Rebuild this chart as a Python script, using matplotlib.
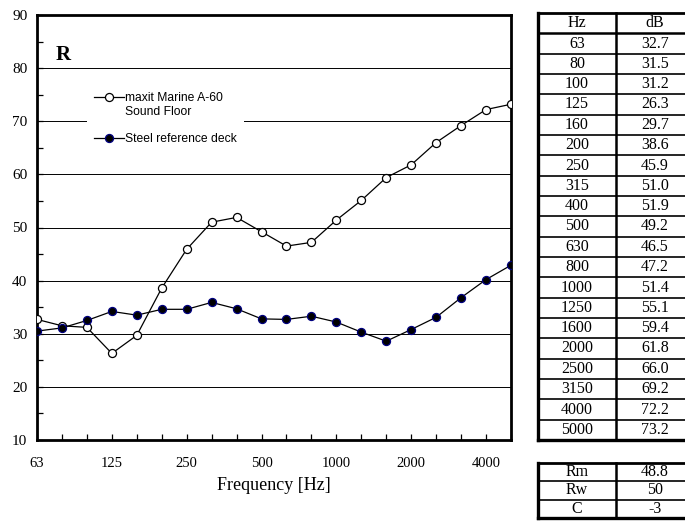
import numpy as np
import matplotlib
matplotlib.use('Agg')
import matplotlib.pyplot as plt
from matplotlib.lines import Line2D

# third-octave band centre frequencies and measured reduction index R [dB]
freqs = [63, 80, 100, 125, 160, 200, 250, 315, 400, 500,
         630, 800, 1000, 1250, 1600, 2000, 2500, 3150, 4000, 5000]
maxit_db = [32.7, 31.5, 31.2, 26.3, 29.7, 38.6, 45.9, 51.0, 51.9, 49.2,
            46.5, 47.2, 51.4, 55.1, 59.4, 61.8, 66.0, 69.2, 72.2, 73.2]
steel_db = [30.5, 31.1, 32.5, 34.2, 33.5, 34.6, 34.6, 35.9, 34.7, 32.8,
            32.7, 33.3, 32.2, 30.3, 28.6, 30.8, 33.1, 36.8, 40.2, 42.9]
summary_names = ['Rm', 'Rw', 'C']
summary_vals = ['48.8', '50', '-3']

serif = 'Liberation Serif'
sans = 'Liberation Sans'

W, H = 685, 521
fig = plt.figure(figsize=(W / 100, H / 100), dpi=100, facecolor='white')

# ── main chart ───────────────────────────────────────────────────────────
x0, x1, y0, y1 = 37, 511, 15, 440
ax = fig.add_axes([x0 / W, 1 - y1 / H, (x1 - x0) / W, (y1 - y0) / H])
idx = np.arange(len(freqs))

for g in range(20, 90, 10):
    ax.axhline(g, color='black', lw=0.7, zorder=1)

h_maxit, = ax.plot(idx, maxit_db, color='black', lw=0.9, marker='o', ms=5.8,
                   mfc='white', mec='black', mew=0.9, zorder=3)
h_steel, = ax.plot(idx, steel_db, color='black', lw=0.9, marker='o', ms=5.8,
                   mfc='black', mec='#000080', mew=0.9, zorder=3)

ax.set_xlim(0, len(freqs) - 1)
ax.set_ylim(10, 90)
ax.set_xticks(idx)
ax.set_xticklabels([str(f) if i % 3 == 0 else '' for i, f in enumerate(freqs)],
                   fontfamily=serif, fontsize=10.5)
ax.set_yticks(range(10, 91, 10))
ax.set_yticks(range(15, 90, 10), minor=True)
ax.set_yticklabels([str(v) for v in range(10, 91, 10)], fontfamily=serif, fontsize=11)
ax.tick_params(axis='x', direction='in', length=4, width=0.9, pad=12)
ax.tick_params(axis='y', which='both', direction='in', length=4, width=0.9, pad=7)
for s in ax.spines.values():
    s.set_linewidth(2.0)

ax.set_xlabel('Frequency [Hz]', fontfamily=serif, fontsize=13, labelpad=5)
ax.text(0.04, 0.905, 'R', transform=ax.transAxes, fontfamily=serif,
        fontsize=15, fontweight='bold', va='center', ha='left')

# legend: the handle sits on the first line of the two-line label
blank = Line2D([], [], linestyle='none')
leg = ax.legend([h_maxit, blank, blank, h_steel],
                ['maxit Marine A-60', 'Sound Floor', ' ', 'Steel reference deck'],
                loc='upper left', bbox_to_anchor=(0.092, 0.85),
                prop={'family': sans, 'size': 8.7},
                handlelength=2.5, handletextpad=0.1, labelspacing=0.15,
                frameon=True, fancybox=False, framealpha=1,
                facecolor='white', edgecolor='none', borderpad=0.6)

# ── value tables ─────────────────────────────────────────────────────────
tx = fig.add_axes([0, 0, 1, 1])
tx.set_xlim(0, W)
tx.set_ylim(H, 0)
tx.axis('off')
tx.patch.set_alpha(0)

c0, c1, c2 = 538, 616, 694
cx_a, cx_b = (c0 + c1) / 2, 655


def draw_table(rows, top, row_h, header_thick):
    n = len(rows)
    bottom = top + n * row_h
    for i, (a, b) in enumerate(rows):
        yc = top + (i + 0.5) * row_h
        tx.text(cx_a, yc, a, ha='center', va='center', fontfamily=serif, fontsize=11.5)
        tx.text(cx_b, yc, b, ha='center', va='center', fontfamily=serif, fontsize=11.5)
        if 0 < i:
            lw = 1.8 if (header_thick and i == 1) else 1.2
            tx.plot([c0, c2], [top + i * row_h] * 2, color='black', lw=lw)
    tx.plot([c0, c2], [top, top], color='black', lw=2.0)
    tx.plot([c0, c2], [bottom, bottom], color='black', lw=2.4)
    tx.plot([c0, c0], [top, bottom], color='black', lw=2.4)
    tx.plot([c1, c1], [top, bottom], color='black', lw=1.8)
    tx.plot([c2, c2], [top, bottom], color='black', lw=2.4)


rows = [('Hz', 'dB')] + [(str(f), f'{v:.1f}') for f, v in zip(freqs, maxit_db)]
draw_table(rows, 13, (440 - 13) / len(rows), True)
draw_table(list(zip(summary_names, summary_vals)), 463, 18.3, False)

fig.savefig('out.png', dpi=100, facecolor='white')
